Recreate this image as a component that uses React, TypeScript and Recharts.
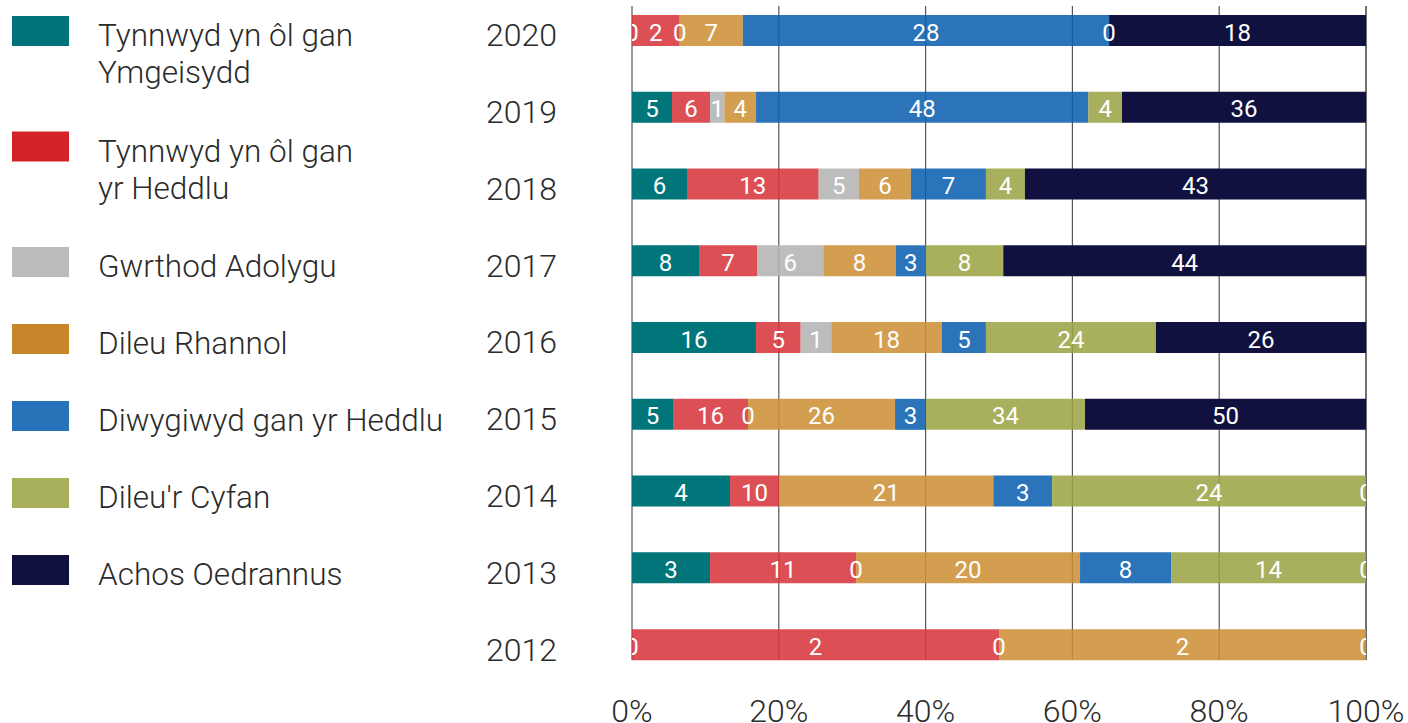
import React from "react";
import { BarChart, Bar, XAxis, YAxis, CartesianGrid, LabelList } from "recharts";

// Categories (top to bottom)
const years = ["2020", "2019", "2018", "2017", "2016", "2015", "2014", "2013", "2012"];

// Series names (legend lines)
const seriesLabels: string[][] = [
  ["Tynnwyd yn ôl gan", "Ymgeisydd"],
  ["Tynnwyd yn ôl gan", "yr Heddlu"],
  ["Gwrthod Adolygu"],
  ["Dileu Rhannol"],
  ["Diwygiwyd gan yr Heddlu"],
  ["Dileu'r Cyfan"],
  ["Achos Oedrannus"],
];

// Bar length as share of the year's total (%)
const ymgeisyddShare = [0, 5.45, 7.49, 9.13, 16.89, 5.59, 13.35, 10.63, 0];
const heddluShare = [6.5, 5.18, 17.94, 7.9, 6.09, 10.22, 6.68, 19.89, 50];
const gwrthodShare = [0, 1.95, 5.49, 9.03, 4.17, 0, 0, 0, 0];
const rhannolShare = [8.6, 4.32, 7.08, 9.9, 15.08, 20.03, 29.2, 30.52, 50];
const diwygiwydShare = [49.9, 45.27, 10.22, 4.05, 5.99, 4.22, 8.0, 12.4, 0];
const cyfanShare = [0, 4.59, 5.31, 10.57, 23.16, 21.66, 42.77, 26.56, 0];
const oedrannusShare = [35.0, 33.24, 46.47, 49.42, 28.62, 38.28, 0, 0, 0];

// Count labels shown on the bars (null = no label)
const ymgeisyddCount = [0, 5, 6, 8, 16, 5, 4, 3, 0];
const heddluCount = [2, 6, 13, 7, 5, 16, 10, 11, 2];
const gwrthodCount = [0, 1, 5, 6, 1, 0, null, 0, 0];
const rhannolCount = [7, 4, 6, 8, 18, 26, 21, 20, 2];
const diwygiwydCount = [28, 48, 7, 3, 5, 3, 3, 8, null];
const cyfanCount = [0, 4, 4, 8, 24, 34, 24, 14, null];
const oedrannusCount = [18, 36, 43, 44, 26, 50, 0, 0, 0];

const xTicks = [0, 20, 40, 60, 80, 100];

const seriesKeys = ["ymg", "hed", "gwr", "rha", "diw", "cyf", "oed"];
const shares = [ymgeisyddShare, heddluShare, gwrthodShare, rhannolShare, diwygiwydShare, cyfanShare, oedrannusShare];
const counts = [ymgeisyddCount, heddluCount, gwrthodCount, rhannolCount, diwygiwydCount, cyfanCount, oedrannusCount];

const legendColors = ["#00737a", "#d2232a", "#bbbbbb", "#c8862a", "#2872b9", "#a8b05c", "#10103e"];
const barColors = ["#00767a", "#d7363c", "#b3b3b3", "#ce9036", "#0b5fb0", "#9ba445", "#10113f"];
const barOpacity = [1, 0.87, 0.87, 0.87, 0.87, 0.87, 1];

const data = years.map((year, i) => {
  const row: Record<string, any> = { year };
  seriesKeys.forEach((k, s) => {
    row[k] = shares[s][i];
    row[k + "_n"] = counts[s][i];
  });
  return row;
});

const FONT = "Roboto, 'Liberation Sans', Arial, sans-serif";
const TEXT = "#2b2b2b";
const LABEL_SIZE = 24;

const labelText = (key: string, x: number, y: number, v: any, clip?: string) => (
  <text
    key={key}
    x={x}
    y={y}
    textAnchor="middle"
    fill="#ffffff"
    fontSize={LABEL_SIZE}
    fontFamily={FONT}
    clipPath={clip ? `url(#${clip})` : undefined}
  >
    {v}
  </text>
);

const makeLabel = (s: number) => (props: any) => {
  const row = props.value;
  if (!row || typeof row !== "object") return null;
  const vb = props.viewBox || props;
  const x = Number(vb.x);
  const y = Number(vb.y);
  const w = Number(vb.width);
  const h = Number(vb.height);
  if (!(w > 0)) return null;
  const ty = y + h / 2 + 10;
  const out: any[] = [];
  const clipId = `lc-${s}-${row.year}`;
  let needClip = false;

  const own = row[seriesKeys[s] + "_n"];
  if (own !== null && own !== undefined) out.push(labelText("c", x + w / 2, ty, own));

  // zero-width series directly before this bar
  let p = s - 1;
  const before: number[] = [];
  while (p >= 0 && !(row[seriesKeys[p]] > 0)) {
    if (row[seriesKeys[p] + "_n"] === 0) before.push(p);
    p--;
  }
  const atStart = p < 0;
  if (before.length) {
    if (atStart) needClip = true;
    out.push(labelText("b", x, ty, 0, atStart ? clipId : undefined));
  }

  // zero-width series after the last visible bar
  let laterVisible = false;
  for (let q = s + 1; q < seriesKeys.length; q++) if (row[seriesKeys[q]] > 0) laterVisible = true;
  if (!laterVisible) {
    let hasZero = false;
    for (let q = s + 1; q < seriesKeys.length; q++) if (row[seriesKeys[q] + "_n"] === 0) hasZero = true;
    if (hasZero) {
      needClip = true;
      out.push(labelText("a", x + w, ty, 0, clipId));
    }
  }

  return (
    <g>
      {needClip ? (
        <defs>
          <clipPath id={clipId}>
            <rect x={x} y={y - 10} width={w} height={h + 20} />
          </clipPath>
        </defs>
      ) : null}
      {out}
    </g>
  );
};

const YTick = (props: any) => {
  const { x, y, payload } = props;
  return (
    <text x={x} y={y + 16} textAnchor="end" fill={TEXT} fontSize={32} fontWeight={300} fontFamily={FONT}>
      {payload.value}
    </text>
  );
};

const XTick = (props: any) => {
  const { x, y, payload } = props;
  return (
    <text x={x} y={y} textAnchor="middle" fill={TEXT} fontSize={32} fontWeight={300} fontFamily={FONT}>
      {payload.value}%
    </text>
  );
};

const LegendBlock = () => {
  let top = 16;
  const items = seriesLabels.map((lines, i) => {
    const t = top;
    top += 77 + 38.5 * (lines.length - 1);
    return (
      <g key={i}>
        <rect x={12} y={t} width={57} height={30} fill={legendColors[i]} />
        {lines.map((ln, j) => (
          <text key={j} x={98} y={t + 30 + 37 * j} fill={TEXT} fontSize={31.5} fontWeight={300} fontFamily={FONT}>
            {ln}
          </text>
        ))}
      </g>
    );
  });
  return (
    <svg width={480} height={723} style={{ position: "absolute", left: 0, top: 0 }}>
      {items}
    </svg>
  );
};

export default function App() {
  return (
    <div style={{ position: "relative", width: 1408, height: 723, overflow: "hidden", background: "#fff" }}>
      <style>{"html,body{margin:0;padding:0;overflow:hidden;}"}</style>
      <BarChart
        width={1408}
        height={723}
        data={data}
        layout="vertical"
        margin={{ top: 6, right: 42, bottom: 0, left: 0 }}
        barCategoryGap={0}
      >
        <CartesianGrid horizontal={false} stroke="#555555" strokeWidth={1.2} />
        <XAxis
          type="number"
          domain={[0, 100]}
          ticks={xTicks}
          axisLine={false}
          tickLine={false}
          tickSize={0}
          tickMargin={62}
          height={63}
          tick={<XTick />}
          interval={0}
        />
        <YAxis
          type="category"
          dataKey="year"
          width={632}
          axisLine={false}
          tickLine={false}
          tickSize={0}
          tickMargin={75}
          tick={<YTick />}
          interval={0}
          padding={{ top: -13.98, bottom: -22.9 }}
        />
        {seriesKeys.map((k, s) => (
          <Bar
            key={k}
            dataKey={k}
            name={seriesLabels[s].join(" ")}
            stackId="a"
            fill={barColors[s]}
            fillOpacity={barOpacity[s]}
            barSize={31}
            isAnimationActive={false}
          >
            <LabelList dataKey={(row: any) => row} content={makeLabel(s)} />
          </Bar>
        ))}
      </BarChart>
      <LegendBlock />
    </div>
  );
}
